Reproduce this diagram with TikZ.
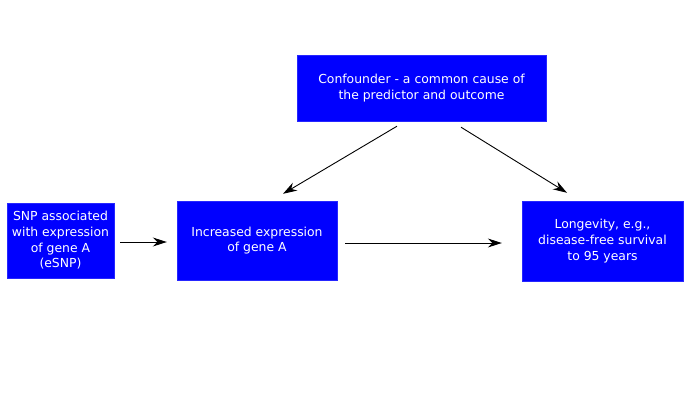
\documentclass[tikz,border=0pt]{standalone}
\usepackage{fontspec}
\setmainfont{DejaVu Sans}
\usetikzlibrary{arrows.meta,calc,positioning}
\definecolor{BoxBlue}{HTML}{0000FF}
\definecolor{Ink}{HTML}{000000}
\tikzset{
  factor/.style={
    draw=BoxBlue!85!white, fill=BoxBlue, text=white, align=center,
    inner sep=0pt, font=\fontsize{12.4}{15.7}\selectfont
  },
  flow/.style={-{Stealth[length=14pt,width=9pt,inset=4.5pt]}, line width=0.9pt, draw=Ink}
}
\begin{document}
\begin{tikzpicture}[x=1pt,y=1pt]
    \useasboundingbox (0,0) rectangle (700,400);
    \node[factor,minimum width=107pt,minimum height=75pt] (snp) at (60.5,159.5)
      {SNP associated\\with expression\\of gene A\\(eSNP)};
    \node[factor,minimum width=160pt,minimum height=79pt] (expr) at (257,159.5)
      {Increased expression\\of gene A};
    \node[factor,minimum width=161pt,minimum height=80pt] (life) at (602.5,159)
      {Longevity, e.g.,\\disease-free survival\\to 95 years};
    \node[factor,minimum width=249pt,minimum height=66pt] (conf) at (421.5,312)
      {Confounder - a common cause of\\the predictor and outcome};

    \draw[flow,shorten <=6pt,shorten >=10pt] ([yshift=-1.5pt]snp.east) -- ([yshift=-1.5pt]expr.west);
    \draw[flow,shorten <=8pt,shorten >=20pt] ([yshift=-2.5pt]expr.east) -- ([yshift=-2pt]life.west);
    \draw[flow] ([shift={(-24.5,-5)}]conf.south) -- ([shift={(26,7)}]expr.north);
    \draw[flow] ([shift={(39.5,-6)}]conf.south) -- ([shift={(-35.5,8)}]life.north);
  \end{tikzpicture}
\end{document}
